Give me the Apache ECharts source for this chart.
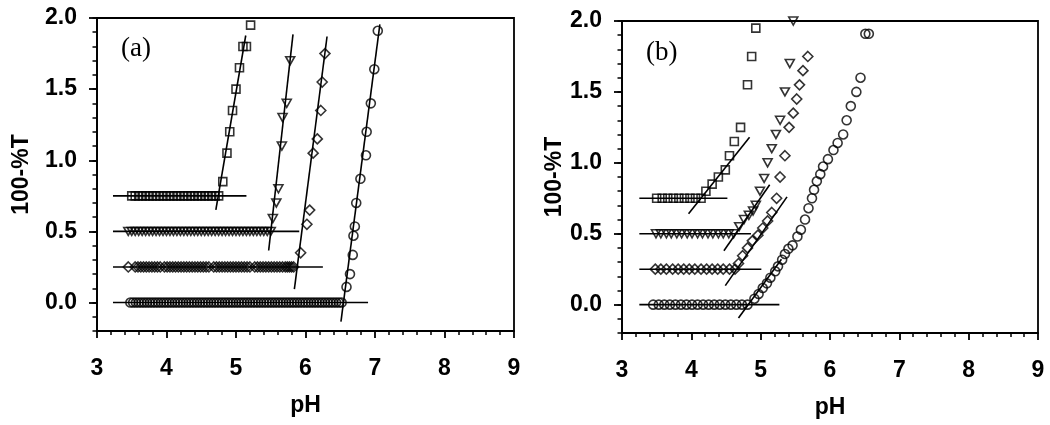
<!DOCTYPE html>
<html>
<head>
<meta charset="utf-8">
<script src="https://cdn.jsdelivr.net/npm/echarts@6/dist/echarts.min.js"></script>
<style>
  html, body { margin: 0; padding: 0; background: #fff; }
  #chart { width: 1050px; height: 425px; }
</style>
</head>
<body>
<div id="chart"></div>
<script>
// ---- data ----
const xTicks = [3, 4, 5, 6, 7, 8, 9];
const yLabels = [0, 0.5, 1, 1.5, 2];
const levels = [0.75, 0.5, 0.25, 0];

// panel (a)
const aSqFlat = [3.50,3.55,3.60,3.65,3.70,3.75,3.80,3.85,3.90,3.95,4.00,4.05,4.10,4.15,4.20,4.25,4.30,4.35,4.40,4.45,4.50,4.55,4.60,4.65,4.70,4.75];
const aSqRiseX = [4.81,4.87,4.91,4.95,5.00,5.05,5.10,5.15,5.21];
const aSqRiseY = [0.85,1.05,1.20,1.35,1.50,1.65,1.80,1.80,1.95];
const aTriFlat = [3.45,3.50,3.55,3.60,3.65,3.70,3.75,3.80,3.85,3.90,3.95,4.00,4.05,4.10,4.15,4.20,4.25,4.30,4.35,4.40,4.45,4.50,4.55,4.60,4.65,4.70,4.75,4.80,4.85,4.90,4.95,5.00,5.05,5.10,5.15,5.20,5.25,5.30,5.35,5.40,5.45,5.50];
const aTriRiseX = [5.53,5.58,5.61,5.66,5.67,5.73,5.78];
const aTriRiseY = [0.59,0.70,0.80,1.10,1.30,1.40,1.70];
const aDiaFlat = [3.45,3.55,3.59,3.63,3.67,3.71,3.75,3.79,3.83,3.87,3.91,3.97,4.01,4.05,4.09,4.13,4.17,4.21,4.25,4.29,4.33,4.37,4.41,4.45,4.49,4.53,4.57,4.61,4.68,4.72,4.76,4.80,4.84,4.88,4.92,4.96,5.00,5.04,5.08,5.12,5.16,5.20,5.27,5.31,5.35,5.39,5.43,5.47,5.51,5.55,5.59,5.63,5.67,5.71,5.74,5.77,5.80,5.83];
const aDiaRiseX = [5.93,6.02,6.06,6.11,6.17,6.22,6.24,6.28];
const aDiaRiseY = [0.35,0.55,0.65,1.05,1.15,1.35,1.55,1.75];
const aCirFlat = [3.48,3.52,3.56,3.60,3.64,3.68,3.72,3.76,3.80,3.84,3.88,3.92,3.96,4.00,4.04,4.08,4.12,4.16,4.20,4.24,4.28,4.32,4.36,4.40,4.44,4.48,4.52,4.56,4.60,4.64,4.68,4.72,4.76,4.80,4.84,4.88,4.92,4.96,5.00,5.04,5.08,5.12,5.16,5.20,5.24,5.28,5.32,5.36,5.40,5.44,5.48,5.52,5.56,5.60,5.64,5.68,5.72,5.76,5.80,5.84,5.88,5.92,5.96,6.00,6.04,6.08,6.12,6.16,6.20,6.24,6.28,6.32,6.36,6.40,6.44,6.48,6.52];
const aCirRiseX = [6.59,6.64,6.68,6.69,6.71,6.73,6.79,6.87,6.88,6.94,6.99,7.04];
const aCirRiseY = [0.11,0.20,0.335,0.47,0.535,0.70,0.87,1.035,1.20,1.40,1.64,1.91];
const aHorizEnd = [5.15, 5.91, 6.25, 6.90];
const aHorizStart = 3.23;
const aSlopeX = [[4.71, 5.14], [5.47, 5.82], [5.84, 6.31], [6.51, 7.07]];
const aSlopeY = [[0.652, 1.877], [0.366, 1.885], [0.094, 1.87], [-0.134, 1.955]];

// panel (b)
const bSqFlat = [3.50,3.58,3.66,3.74,3.82,3.90,3.98,4.06,4.14];
const bSqRiseX = [4.21,4.30,4.39,4.49,4.55,4.62,4.71,4.81,4.87,4.93];
const bSqRiseY = [0.80,0.85,0.90,0.95,1.05,1.15,1.25,1.55,1.75,1.95];
const bTriFlat = [3.49,3.56,3.64,3.71,3.79,3.86,3.94,4.01,4.09,4.16,4.24,4.31,4.39,4.46,4.54,4.61];
const bTriRiseX = [4.69,4.76,4.83,4.89,4.93,4.99,5.05,5.10,5.16,5.22,5.28,5.35,5.42,5.47];
const bTriRiseY = [0.55,0.60,0.63,0.66,0.70,0.80,0.89,1.00,1.10,1.20,1.30,1.50,1.70,2.00];
const bDiaFlat = [3.48,3.56,3.64,3.73,3.81,3.89,3.97,4.05,4.14,4.22,4.30,4.38,4.46,4.55,4.63];
const bDiaRiseX = [4.68,4.74,4.81,4.88,4.96,5.03,5.10,5.16,5.23,5.28,5.35,5.41,5.47,5.52,5.56,5.61,5.68];
const bDiaRiseY = [0.29,0.345,0.40,0.45,0.49,0.54,0.59,0.65,0.75,0.90,1.05,1.25,1.35,1.45,1.55,1.65,1.75];
const bCirFlat = [3.45,3.53,3.61,3.69,3.77,3.85,3.93,4.01,4.09,4.17,4.25,4.33,4.41,4.49,4.57,4.65,4.73,4.81];
const bCirRiseX = [4.91,4.97,5.03,5.09,5.14,5.21,5.25,5.31,5.35,5.40,5.46,5.53,5.58,5.64,5.69,5.74,5.77,5.81,5.86,5.90,5.97,6.05,6.11,6.19,6.24,6.30,6.38,6.44,6.51,6.56];
const bCirRiseY = [0.042,0.075,0.117,0.15,0.19,0.235,0.27,0.317,0.357,0.394,0.418,0.48,0.528,0.60,0.68,0.75,0.81,0.87,0.92,0.974,1.026,1.09,1.14,1.20,1.30,1.40,1.50,1.60,1.91,1.91];
const bHorizEnd = [4.52, 4.86, 5.01, 5.27];
const bHorizStart = 3.25;
const bSlopeX = [[3.96, 4.84], [4.47, 5.13], [4.49, 5.38], [4.68, 5.30]];
const bSlopeY = [[0.64, 1.18], [0.38, 0.845], [0.134, 0.76], [-0.094, 0.32]];

// ---- styling ----
const FONT = 'Liberation Sans';
const markers = [
  { symbol: 'rect', size: 8, rotate: 0 },
  { symbol: 'triangle', size: [9, 8], rotate: 180 },
  { symbol: 'diamond', size: 10, rotate: 0 },
  { symbol: 'circle', size: 9, rotate: 0 }
];

const chart = echarts.init(document.getElementById('chart'));

function scatter(panel, m, xs, ys) {
  return {
    type: 'scatter',
    xAxisIndex: panel, yAxisIndex: panel * 2,
    symbol: markers[m].symbol,
    symbolSize: markers[m].size,
    symbolRotate: markers[m].rotate,
    itemStyle: { color: 'rgba(0,0,0,0)', borderColor: '#000', borderWidth: 1.6 },
    data: xs.map((x, i) => [x, ys[i]]),
    silent: true, z: 3
  };
}
function flat(panel, m, xs) {
  return scatter(panel, m, xs, xs.map(() => levels[m]));
}
function line(panel, pts) {
  return {
    type: 'line',
    xAxisIndex: panel, yAxisIndex: panel * 2,
    symbol: 'none',
    lineStyle: { color: '#000', width: 1.6 },
    data: pts, silent: true, z: 4
  };
}

const panels = [
  { flat: [aSqFlat, aTriFlat, aDiaFlat, aCirFlat],
    riseX: [aSqRiseX, aTriRiseX, aDiaRiseX, aCirRiseX],
    riseY: [aSqRiseY, aTriRiseY, aDiaRiseY, aCirRiseY],
    hStart: aHorizStart, hEnd: aHorizEnd, sX: aSlopeX, sY: aSlopeY },
  { flat: [bSqFlat, bTriFlat, bDiaFlat, bCirFlat],
    riseX: [bSqRiseX, bTriRiseX, bDiaRiseX, bCirRiseX],
    riseY: [bSqRiseY, bTriRiseY, bDiaRiseY, bCirRiseY],
    hStart: bHorizStart, hEnd: bHorizEnd, sX: bSlopeX, sY: bSlopeY }
];

const series = [];
panels.forEach((p, pi) => {
  for (let m = 0; m < 4; m++) {
    series.push(flat(pi, m, p.flat[m]));
    series.push(scatter(pi, m, p.riseX[m], p.riseY[m]));
    series.push(line(pi, [[p.hStart, levels[m]], [p.hEnd[m], levels[m]]]));
    series.push(line(pi, [[p.sX[m][0], p.sY[m][0]], [p.sX[m][1], p.sY[m][1]]]));
  }
});

const grids = [
  { left: 97, top: 18, width: 417, height: 313 },
  { left: 622, top: 21, width: 416, height: 312 }
].map(g => Object.assign(g, { show: true, borderColor: '#000', borderWidth: 1.8, backgroundColor: 'transparent' }));

const labelStyle = { color: '#000', fontFamily: FONT, fontWeight: 'bold', fontSize: 23 };

const xAxes = [0, 1].map(i => ({
  type: 'value', gridIndex: i,
  min: xTicks[0], max: xTicks[xTicks.length - 1], interval: 1,
  name: 'pH', nameLocation: 'middle', nameGap: 63,
  nameTextStyle: labelStyle,
  axisLine: { show: true, onZero: false, lineStyle: { color: '#000', width: 1.8 } },
  axisTick: { show: true, inside: false, length: 7, lineStyle: { color: '#000', width: 1.8 } },
  minorTick: { show: true, splitNumber: 5, length: 4, lineStyle: { color: '#000', width: 1.5 } },
  axisLabel: Object.assign({ show: true, margin: 26 }, labelStyle),
  splitLine: { show: false },
  minorSplitLine: { show: false }
}));

const yAxes = [];
[0, 1].forEach(i => {
  yAxes.push({
    type: 'value', gridIndex: i, position: 'left',
    min: -0.2, max: 2,
    name: '100-%T', nameLocation: 'middle', nameGap: i === 0 ? 64 : 49,
    nameTextStyle: labelStyle,
    axisLine: { show: true, onZero: false, lineStyle: { color: '#000', width: 1.8 } },
    axisTick: { show: true, inside: false, customValues: yLabels, length: 8, lineStyle: { color: '#000', width: 1.8 } },
    axisLabel: Object.assign({ show: true, customValues: yLabels, margin: 20, formatter: v => v.toFixed(1) }, labelStyle),
    splitLine: { show: false }
  });
  yAxes.push({
    type: 'value', gridIndex: i, position: 'left', offset: 0,
    min: -0.2, max: 2, interval: 0.1,
    axisLine: { show: false },
    axisTick: { show: true, inside: false, length: 4.5, lineStyle: { color: '#000', width: 1.5 } },
    axisLabel: { show: false },
    splitLine: { show: false }
  });
});

chart.setOption({
  animation: false,
  grid: grids,
  xAxis: xAxes,
  yAxis: yAxes,
  graphic: [
    { type: 'text', left: 121, top: 35, style: { text: '(a)', font: '27px "Liberation Serif"', fill: '#000' } },
    { type: 'text', left: 646, top: 39, style: { text: '(b)', font: '27px "Liberation Serif"', fill: '#000' } }
  ],
  series: series
});
</script>
</body>
</html>
